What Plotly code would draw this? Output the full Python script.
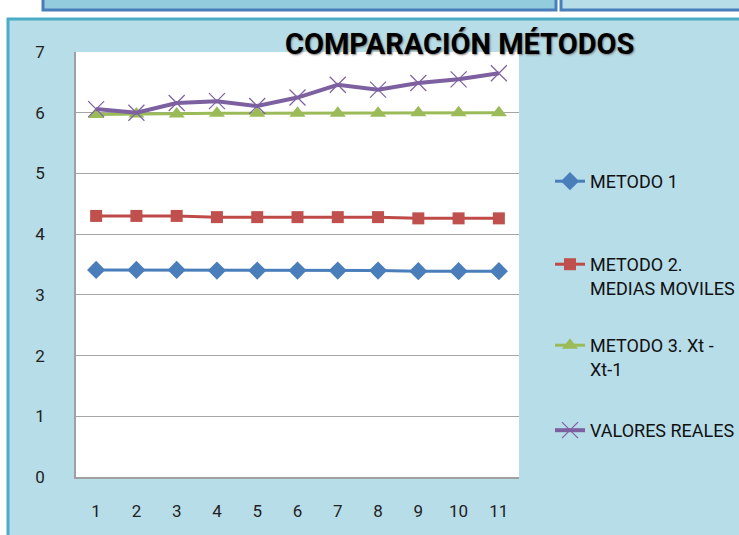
import plotly.graph_objects as go

W, H = 739, 535
L, R, T, B = 76, 519, 52, 477

categories = [str(i) for i in range(1, 12)]
metodo1 = [3.41, 3.41, 3.41, 3.40, 3.40, 3.40, 3.40, 3.40, 3.39, 3.39, 3.39]
metodo2 = [4.30, 4.30, 4.30, 4.28, 4.28, 4.28, 4.28, 4.28, 4.26, 4.26, 4.26]
metodo3 = [5.97, 5.98, 5.98, 5.99, 5.99, 5.99, 5.99, 5.99, 6.00, 6.00, 6.00]
reales = [6.06, 6.00, 6.16, 6.19, 6.11, 6.25, 6.46, 6.38, 6.49, 6.55, 6.65]
names = ["METODO 1", "METODO 2.<br>MEDIAS MOVILES", "METODO 3. Xt -<br>Xt-1", "VALORES REALES"]
y_ticks = [0, 1, 2, 3, 4, 5, 6, 7]

FONT = "Roboto, Liberation Sans, sans-serif"

def px_x(p):
    return (p - L) / (R - L)

def px_y(p):
    return (B - p) / (B - T)

fig = go.Figure()
fig.add_trace(go.Scatter(x=categories, y=metodo1, name=names[0], mode="lines+markers",
                         line=dict(color="#4A7EBB", width=3),
                         marker=dict(symbol="diamond", size=14, color="#4A7EBB"),
                         legend="legend", showlegend=True))
fig.add_trace(go.Scatter(x=categories, y=metodo2, name=names[1], mode="lines+markers",
                         line=dict(color="#BE4B48", width=3),
                         marker=dict(symbol="square", size=12, color="#C0504D"),
                         legend="legend2", showlegend=True))
fig.add_trace(go.Scatter(x=categories, y=metodo3, name=names[2], mode="lines+markers",
                         line=dict(color="#9BBB59", width=3),
                         marker=dict(symbol="triangle-up", size=14, color="#9BBB59"),
                         legend="legend3", showlegend=True))
fig.add_trace(go.Scatter(x=categories, y=reales, name=names[3], mode="lines+markers",
                         line=dict(color="#7D60A0", width=4),
                         marker=dict(symbol="x-thin-open", size=16,
                                     line=dict(color="#A898C8", width=1.2)),
                         legend="legend4", showlegend=True))

def leg(ypx):
    return dict(x=px_x(550), y=px_y(ypx), xanchor="left", yanchor="top",
                bgcolor="rgba(0,0,0,0)", valign="top", visible=True,
                font=dict(family=FONT, size=18, color="#111"))

shapes = [
    # outer chart frame
    dict(type="rect", xref="paper", yref="paper", x0=px_x(8), x1=px_x(760),
         y0=px_y(560), y1=px_y(19), fillcolor="#B7DDE8",
         line=dict(color="#4BACC6", width=3), layer="below"),
    # top boxes
    dict(type="rect", xref="paper", yref="paper", x0=px_x(43), x1=px_x(556),
         y0=px_y(10), y1=px_y(-10), fillcolor="#93CDDD",
         line=dict(color="#4A7EBB", width=3), layer="below"),
    dict(type="rect", xref="paper", yref="paper", x0=px_x(561), x1=px_x(760),
         y0=px_y(10), y1=px_y(-10), fillcolor="#B7DDE8",
         line=dict(color="#4A7EBB", width=3), layer="below"),
    # plot area
    dict(type="rect", xref="paper", yref="paper", x0=0, x1=1, y0=0, y1=1,
         fillcolor="white", line=dict(width=0), layer="below"),
]

fig.update_layout(
    width=W, height=H,
    margin=dict(l=L, r=W - R, t=T, b=H - B, autoexpand=False),
    showlegend=True,
    paper_bgcolor="white",
    plot_bgcolor="rgba(0,0,0,0)",
    shapes=shapes,
    legend=leg(163), legend2=leg(246), legend3=leg(327), legend4=leg(412),
    annotations=[dict(text="<b>COMPARACIÓN MÉTODOS</b>", xref="paper", yref="paper",
                      x=px_x(459), y=px_y(44), xanchor="center", yanchor="middle",
                      showarrow=False,
                      font=dict(family=FONT, size=29, color="black",
                                shadow="1px 1px 2px #777"))],
    xaxis=dict(type="category", range=[-0.5, len(categories) - 0.5],
               showgrid=False, showline=True, linecolor="#A0A0A0",
               linewidth=1.5, ticks="", ticklabelstandoff=18,
               tickfont=dict(family=FONT, size=17, color="#222")),
    yaxis=dict(range=[0, 7], tickvals=y_ticks, showgrid=True, gridcolor="#A6A6A6",
               gridwidth=1.2, showline=True, linecolor="#A0A0A0", linewidth=1.5,
               zeroline=False, ticks="", ticklabelstandoff=26,
               tickfont=dict(family=FONT, size=17, color="#222")),
)

fig.write_html("out.html", config={"displayModeBar": False},
               post_script="document.body.style.margin='0';")
